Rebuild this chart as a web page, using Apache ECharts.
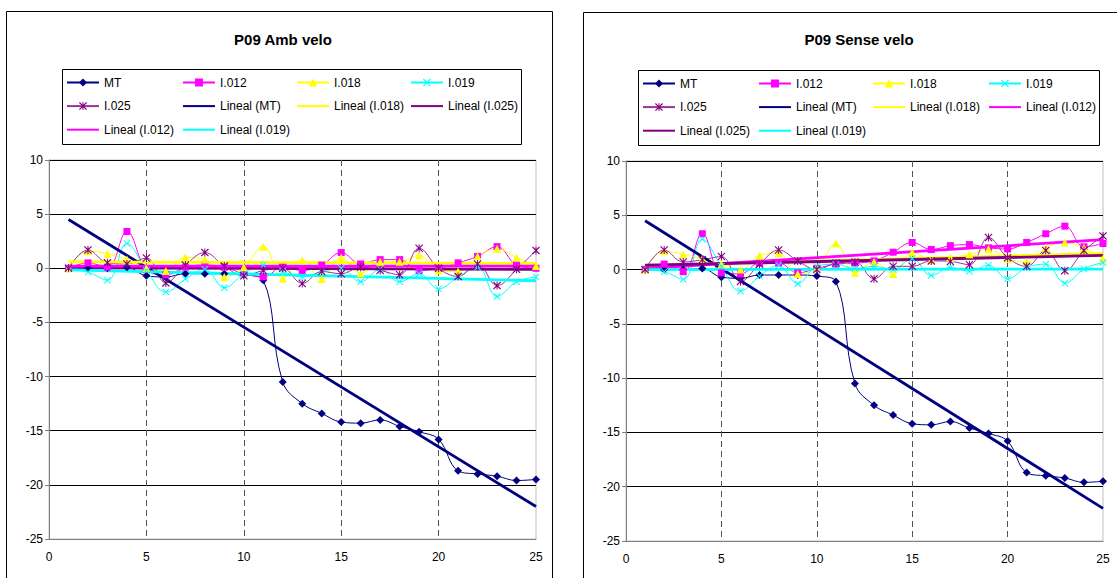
<!DOCTYPE html>
<html>
<head>
<meta charset="utf-8">
<title>P09 velo</title>
<script src="https://cdn.jsdelivr.net/npm/echarts@6/dist/echarts.min.js"></script>
<style>
  html, body { margin: 0; padding: 0; background: #ffffff; }
  #chart { width: 1117px; height: 578px; }
</style>
</head>
<body>
<div id="chart"></div>
<script>
// ---- data -------------------------------------------------------------
const xValues = [1, 2, 3, 4, 5, 6, 7, 8, 9, 10, 11, 12, 13, 14, 15, 16, 17, 18, 19, 20, 21, 22, 23, 24, 25];
const seriesNames = ['MT', 'I.012', 'I.018', 'I.019', 'I.025'];

// MT is the same in both panels
const mtVelo = [0, 0, 0, 0.1, -0.7, -0.8, -0.5, -0.5, -0.5, -0.6, -1.1, -10.5, -12.5, -13.4, -14.2, -14.3, -14.0, -14.6, -15.1, -15.8, -18.7, -19.0, -19.2, -19.6, -19.5];

// P09 Amb velo
const ambI012 = [0, 0.5, 0.1, 3.4, -0.1, -0.6, 0.1, 0.3, 0.1, -0.5, -0.8, 0.1, -0.2, 0.3, 1.45, 0.4, 0.8, 0.8, -0.2, 0.0, 0.5, 1.1, 2.0, 0.3, 0.0];
const ambI018 = [0, 1.6, 1.35, 0.8, 0.0, -0.25, 1.0, 0.8, -0.8, 0.1, 2.0, -0.95, 0.75, -1.0, 1.0, -0.45, 0.6, 0.6, 1.2, -0.2, -0.3, 1.1, 1.8, 1.0, 0.2];
const ambI019 = [0, -0.35, -1.1, 2.3, -0.2, -2.2, -1.0, -0.1, -1.8, -0.5, 0.3, -0.3, -0.8, -0.3, 0.0, -1.25, -0.1, -1.25, -0.5, -1.9, -0.8, 0.1, -2.6, -1.25, -0.8];
const ambI025 = [0, 1.7, 0.5, 0.4, 0.95, -1.35, 0.3, 1.45, 0.2, -0.7, -0.2, 0.0, -1.4, -0.3, -0.5, 0.1, -0.2, -0.6, 1.85, 0.0, -0.75, 0.4, -1.6, -0.1, 1.65];
// linear trend values at x = 1 and x = 25, order: MT, I.012, I.018, I.019, I.025
const ambTrendStart = [4.5, 0.2, 0.6, -0.15, 0.05];
const ambTrendEnd = [-22.0, 0.2, 0.45, -1.15, -0.1];

// P09 Sense velo
const senseI012 = [0, 0.5, -0.2, 3.3, -0.3, -0.4, 0.6, 0.6, -0.3, 0.1, 0.5, 0.6, 0.8, 1.6, 2.5, 1.85, 2.2, 2.3, 2.0, 1.9, 2.5, 3.3, 4.0, 2.1, 2.4];
const senseI018 = [0, 1.7, 1.4, 1.0, 0.5, 0.0, 1.3, 1.5, -0.4, 0.2, 2.4, -0.3, 0.7, -0.4, 1.6, 0.9, 1.1, 1.4, 1.9, 1.0, 0.7, 2.0, 2.5, 2.0, 1.0];
const senseI019 = [0, -0.2, -0.9, 2.8, 0.3, -2.0, -0.6, 0.4, -1.3, 0.3, 0.5, 0.1, 0.3, 0.0, 1.0, -0.55, 0.2, -0.15, 0.4, -0.85, 0.2, 0.5, -1.25, 0.05, 0.65];
const senseI025 = [0, 1.8, 0.7, 0.9, 1.2, -1.1, 0.5, 1.8, 0.8, 0.0, 0.6, 0.7, -0.85, 0.3, 0.3, 0.8, 0.75, 0.45, 2.95, 1.1, 0.3, 1.75, -0.1, 1.75, 3.1];
const senseTrendStart = [4.5, 0.1, 0.37, 0.0, 0.4];
const senseTrendEnd = [-22.0, 2.75, 1.5, 0.05, 1.3];

const panelTitles = ['P09 Amb velo', 'P09 Sense velo'];

// ---- styling ----------------------------------------------------------
const FONT = 'Arial, "Liberation Sans", sans-serif';
const X_MARK = 'path://M0,1 L1,0 L5,4 L9,0 L10,1 L6,5 L10,9 L9,10 L5,6 L1,10 L0,9 L4,5 Z';
const STAR_MARK = 'path://M0,1 L1,0 L5,4 L9,0 L10,1 L6,5 L10,9 L9,10 L5,6 L1,10 L0,9 L4,5 Z M4.4,0 L5.6,0 L5.6,10 L4.4,10 Z';

const looks = {
  'MT':    { color: '#000080', line: '#000080', symbol: 'diamond',  size: 8 },
  'I.012': { color: '#FF00FF', line: '#FF00FF', symbol: 'rect',     size: 7 },
  'I.018': { color: '#FFFF00', line: '#FFFF00', symbol: 'triangle', size: 8 },
  'I.019': { color: '#00FFFF', line: '#00FFFF', symbol: X_MARK,     size: 7 },
  'I.025': { color: '#800080', line: '#993399', symbol: STAR_MARK,  size: 8 }
};

// panel geometry
const panels = [
  { grid: { left: 49, top: 160, width: 487, height: 379 },
    frame: { x: 6.5, y: 11.5, width: 546, height: 620 },
    legendBox: { x: 62.5, y: 69.5, width: 459, height: 75 },
    titleX: 283, titleY: 39,
    legendCols: [['MT', 'I.025', 'Lineal (I.012)'], ['I.012', 'Lineal (MT)', 'Lineal (I.019)'], ['I.018', 'Lineal (I.018)'], ['I.019', 'Lineal (I.025)']],
    legendX: [66, 182, 296, 410], legendTop: 75.5 },
  { grid: { left: 626, top: 161, width: 477, height: 380 },
    frame: { x: 583.5, y: 12.5, width: 620, height: 620 },
    legendBox: { x: 638.5, y: 70.5, width: 461, height: 75 },
    titleX: 859, titleY: 39,
    legendCols: [['MT', 'I.025', 'Lineal (I.025)'], ['I.012', 'Lineal (MT)', 'Lineal (I.019)'], ['I.018', 'Lineal (I.018)'], ['I.019', 'Lineal (I.012)']],
    legendX: [642, 758, 872, 988], legendTop: 76.5 }
];

const panelData = [
  { values: [mtVelo, ambI012, ambI018, ambI019, ambI025], trendStart: ambTrendStart, trendEnd: ambTrendEnd },
  { values: [mtVelo, senseI012, senseI018, senseI019, senseI025], trendStart: senseTrendStart, trendEnd: senseTrendEnd }
];

// ---- option -----------------------------------------------------------
const grids = [], xAxes = [], yAxes = [], series = [], legends = [], graphics = [];

panels.forEach((p, gi) => {
  grids.push(Object.assign({ show: true, borderColor: '#c0c0c0', borderWidth: 1, backgroundColor: 'transparent' }, p.grid));

  xAxes.push({
    type: 'value', gridIndex: gi, min: 0, max: 25, interval: 5,
    axisLine: { show: true, onZero: false, lineStyle: { color: '#808080', width: 1 } },
    axisTick: { show: false },
    axisLabel: { color: '#000', fontSize: 12, fontFamily: FONT, margin: 12 },
    splitLine: { show: true, showMinLine: false, showMaxLine: false,
                 lineStyle: { color: '#555555', width: 1, type: [6, 4] } }
  });

  yAxes.push({
    type: 'value', gridIndex: gi, min: -25, max: 10, interval: 5,
    axisLine: { show: true, onZero: false, lineStyle: { color: '#808080', width: 1 } },
    axisTick: { show: true, inside: false, length: 4, lineStyle: { color: '#808080' } },
    axisLabel: { color: '#000', fontSize: 12, fontFamily: FONT, margin: 6 },
    splitLine: { show: true, showMinLine: false, lineStyle: { color: '#000000', width: 1 } }
  });

  const d = panelData[gi];

  // measured series
  seriesNames.forEach((name, si) => {
    const lk = looks[name];
    series.push({
      type: 'line', name: name, xAxisIndex: gi, yAxisIndex: gi,
      data: xValues.map((x, i) => [x, d.values[si][i]]),
      smooth: 0.4,
      symbol: lk.symbol, symbolSize: lk.size, showSymbol: true,
      lineStyle: { color: lk.line, width: 1 },
      itemStyle: { color: lk.color, borderWidth: 0 },
      emphasis: { disabled: true },
      animation: false
    });
  });

  // linear trend lines, drawn over the measured series
  const trendOrder = gi === 0 ? [0, 2, 4, 1, 3] : [0, 2, 1, 4, 3];
  trendOrder.forEach(si => {
    const name = seriesNames[si];
    series.push({
      type: 'line', name: 'Lineal (' + name + ')', xAxisIndex: gi, yAxisIndex: gi,
      data: [[xValues[0], d.trendStart[si]], [xValues[xValues.length - 1], d.trendEnd[si]]],
      symbol: 'none',
      lineStyle: { color: looks[name].color, width: 2.8 },
      itemStyle: { color: looks[name].color },
      emphasis: { disabled: true },
      animation: false
    });
  });

  // legend in four columns; trend entries show only their line
  p.legendCols.forEach((col, ci) => {
    legends.push({
      orient: 'vertical', left: p.legendX[ci], top: p.legendTop,
      padding: 0, itemGap: 9.6, itemWidth: 32, itemHeight: 10,
      selectedMode: false,
      data: col.map(n => n.indexOf('Lineal') === 0
        ? { name: n, itemStyle: { opacity: 0 } }
        : { name: n }),
      textStyle: { color: '#000', fontSize: 12, fontFamily: FONT, lineHeight: 14 }
    });
  });

  // chart frame, legend box and title
  graphics.push({ type: 'rect', z: -10, shape: p.frame, style: { fill: 'none', stroke: '#000', lineWidth: 1 }, silent: true });
  graphics.push({ type: 'rect', z: -10, shape: p.legendBox, style: { fill: 'none', stroke: '#000', lineWidth: 1 }, silent: true });
  graphics.push({ type: 'text', x: p.titleX, y: p.titleY,
                  style: { text: panelTitles[gi], font: 'bold 15px ' + FONT, fill: '#000',
                           textAlign: 'center', textVerticalAlign: 'middle' }, silent: true });
});

const chart = echarts.init(document.getElementById('chart'), null, { renderer: 'svg' });
chart.setOption({
  backgroundColor: '#ffffff',
  animation: false,
  grid: grids,
  xAxis: xAxes,
  yAxis: yAxes,
  legend: legends,
  series: series,
  graphic: graphics
});
</script>
</body>
</html>
